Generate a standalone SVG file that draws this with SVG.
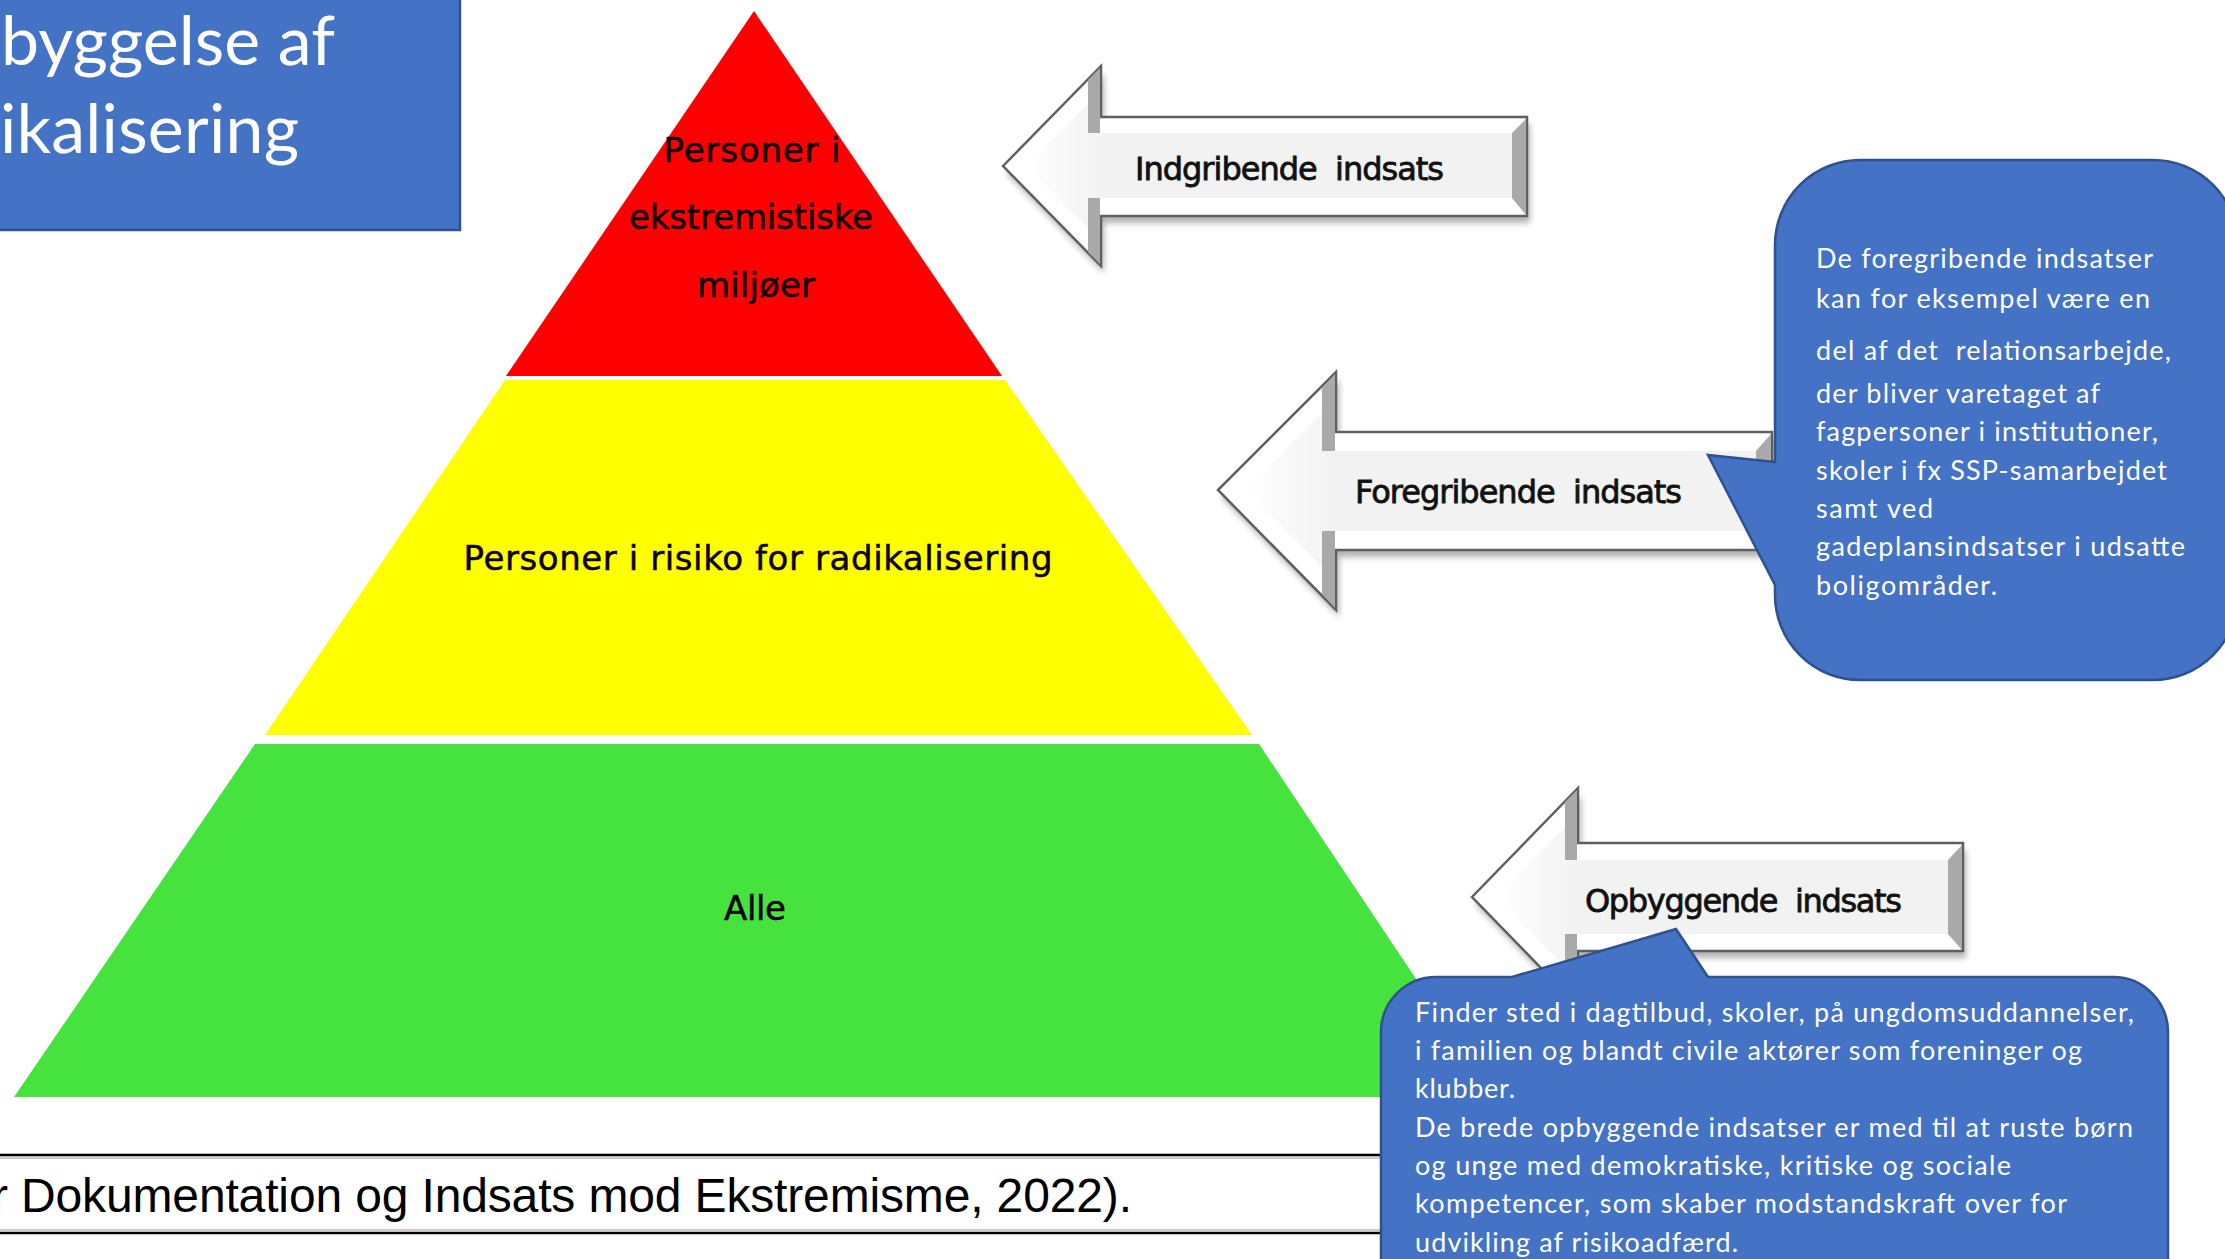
<svg xmlns="http://www.w3.org/2000/svg" width="2225" height="1259" viewBox="0 0 2225 1259">
<defs>
<style>
.ptxt{font-family:"DejaVu Sans",sans-serif;font-size:34px;fill:#0a0000;stroke:#0a0000;stroke-width:0.5}
.atxt{font-family:"DejaVu Sans",sans-serif;font-size:32px;fill:#111;stroke:#111;stroke-width:0.8}
.ctxt{font-family:Lato,"Open Sans",sans-serif;fill:#fff}
.outline{stroke:#5f5f5f;stroke-width:2.5;stroke-linejoin:miter}
.bevel{fill:#a9a9a9}
.band{fill:#f2f2f2}
.callout{fill:#4472C4;stroke:#2F528F;stroke-width:2.5}
</style>
<linearGradient id="headg" x1="0" y1="0" x2="1" y2="0">
<stop offset="0" stop-color="#ffffff"/>
<stop offset="1" stop-color="#f2f2f2"/>
</linearGradient>
<filter id="sh" x="-10%" y="-20%" width="120%" height="150%">
<feGaussianBlur stdDeviation="3"/>
</filter>
</defs>
<rect width="2225" height="1259" fill="#fff"/>

<g id="pyramid">
<polygon id="red" points="754,11 1002,376 506,376" fill="#FF0000"/>
<polygon id="yellow" points="505,380 1005,380 1252,735 265,735" fill="#FFFF00"/>
<polygon id="green" points="255,744 1259,744 1495,1097 14,1097" fill="#46E33F"/>
<text class="ptxt" x="752" y="162" text-anchor="middle" textLength="177">Personer i</text>
<text class="ptxt" x="751" y="229" text-anchor="middle" textLength="244">ekstremistiske</text>
<text class="ptxt" x="756" y="297" text-anchor="middle" textLength="118">miljøer</text>
<text class="ptxt" x="758" y="570" text-anchor="middle" textLength="589">Personer i risiko for radikalisering</text>
<text class="ptxt" x="755" y="920" text-anchor="middle" textLength="62">Alle</text>
</g>

<g id="arrow-indgribende">
<polygon points="1003,166 1101,66 1101,117 1527,117 1527,216 1101,216 1101,266" fill="#000" opacity="0.3" filter="url(#sh)" transform="translate(3,7)"/>
<polygon class="outline" points="1003,166 1101,66 1101,117 1527,117 1527,216 1101,216 1101,266" fill="#fff"/>
<rect class="band" x="1101" y="133" width="411" height="65"/>
<polygon points="1026,166 1088,104 1088,133 1101,133 1101,198 1088,198 1088,228" fill="url(#headg)"/>
<polygon class="bevel" points="1088,80 1100,68 1100,133 1088,133"/>
<polygon class="bevel" points="1088,198 1100,198 1100,264 1088,252"/>
<polygon class="bevel" points="1512,133 1526,119 1526,215 1512,198"/>
<text class="atxt" x="1135" y="180" textLength="309">Indgribende&#160; indsats</text>
</g>

<g id="arrow-foregribende">
<polygon points="1218,490 1336,372 1336,432 1772,432 1772,550 1336,550 1336,610" fill="#000" opacity="0.3" filter="url(#sh)" transform="translate(3,7)"/>
<polygon class="outline" points="1218,490 1336,372 1336,432 1772,432 1772,550 1336,550 1336,610" fill="#fff"/>
<rect class="band" x="1336" y="451" width="420" height="80"/>
<polygon points="1245,490 1322,413 1322,451 1336,451 1336,531 1322,531 1322,567" fill="url(#headg)"/>
<polygon class="bevel" points="1322,388 1335,374 1335,451 1322,451"/>
<polygon class="bevel" points="1322,531 1335,531 1335,608 1322,594"/>
<polygon class="bevel" points="1756,451 1771,434 1771,549 1756,531"/>
<text class="atxt" x="1355" y="503" textLength="327">Foregribende&#160; indsats</text>
</g>

<g id="arrow-opbyggende">
<polygon points="1472,897 1578,788 1578,843 1963,843 1963,951 1578,951 1578,1006" fill="#000" opacity="0.3" filter="url(#sh)" transform="translate(3,7)"/>
<polygon class="outline" points="1472,897 1578,788 1578,843 1963,843 1963,951 1578,951 1578,1006" fill="#fff"/>
<rect class="band" x="1578" y="860" width="370" height="74"/>
<polygon points="1496,897 1565,827 1565,860 1578,860 1578,934 1565,934 1565,967" fill="url(#headg)"/>
<polygon class="bevel" points="1565,802 1577,790 1577,860 1565,860"/>
<polygon class="bevel" points="1565,934 1577,934 1577,1004 1565,992"/>
<polygon class="bevel" points="1948,860 1962,845 1962,950 1948,934"/>
<text class="atxt" x="1585" y="912" textLength="317">Opbyggende&#160; indsats</text>
</g>

<g id="caption">
<line x1="0" y1="1155" x2="1381" y2="1155" stroke="#000" stroke-width="2.5"/>
<line x1="0" y1="1158" x2="1381" y2="1158" stroke="#999" stroke-width="1"/>
<line x1="0" y1="1230" x2="1381" y2="1230" stroke="#999" stroke-width="1"/>
<line x1="0" y1="1233" x2="1381" y2="1233" stroke="#000" stroke-width="2.5"/>
<text x="-8" y="1212" font-family="'Liberation Sans',Arial,sans-serif" font-size="48" fill="#000" textLength="1140">r Dokumentation og Indsats mod Ekstremisme, 2022).</text>
</g>

<g id="callout-foregribende">
<path class="callout" d="M1860,160 H2153 A85,85 0 0 1 2238,245 V595 A85,85 0 0 1 2153,680 H1860 A85,85 0 0 1 1775,595 V585 L1708,455 L1775,462 V245 A85,85 0 0 1 1860,160 Z"/>
<g class="ctxt" font-size="27">
<text x="1816" y="268" textLength="337">De foregribende indsatser</text>
<text x="1816" y="308" textLength="334">kan for eksempel være en</text>
<text x="1816" y="360" textLength="355">del af det&#160; relationsarbejde,</text>
<text x="1816" y="403" textLength="284">der bliver varetaget af</text>
<text x="1816" y="441" textLength="342">fagpersoner i institutioner,</text>
<text x="1816" y="480" textLength="351">skoler i fx SSP-samarbejdet</text>
<text x="1816" y="518" textLength="117">samt ved</text>
<text x="1816" y="556" textLength="369">gadeplansindsatser i udsatte</text>
<text x="1816" y="595" textLength="181">boligområder.</text>
</g>
</g>

<g id="callout-opbyggende">
<path class="callout" d="M1436,977 H1512 L1676,929 L1708,977 H2113 A55,55 0 0 1 2168,1032 V1300 H1381 V1032 A55,55 0 0 1 1436,977 Z"/>
<g class="ctxt" font-size="27">
<text x="1415" y="1022" textLength="719">Finder sted i dagtilbud, skoler, på ungdomsuddannelser,</text>
<text x="1415" y="1060" textLength="667">i familien og blandt civile aktører som foreninger og</text>
<text x="1415" y="1098" textLength="100">klubber.</text>
<text x="1415" y="1137" textLength="718">De brede opbyggende indsatser er med til at ruste børn</text>
<text x="1415" y="1175" textLength="596">og unge med demokratiske, kritiske og sociale</text>
<text x="1415" y="1213" textLength="652">kompetencer, som skaber modstandskraft over for</text>
<text x="1415" y="1252" textLength="323">udvikling af risikoadfærd.</text>
</g>
</g>

<g id="title">
<rect x="-10" y="-10" width="470" height="240" fill="#4472C4" stroke="#2F528F" stroke-width="2.5"/>
<text class="ctxt" x="1" y="65" font-size="68" textLength="334">byggelse af</text>
<text class="ctxt" x="0" y="153" font-size="68" textLength="299">ikalisering</text>
</g>
</svg>
